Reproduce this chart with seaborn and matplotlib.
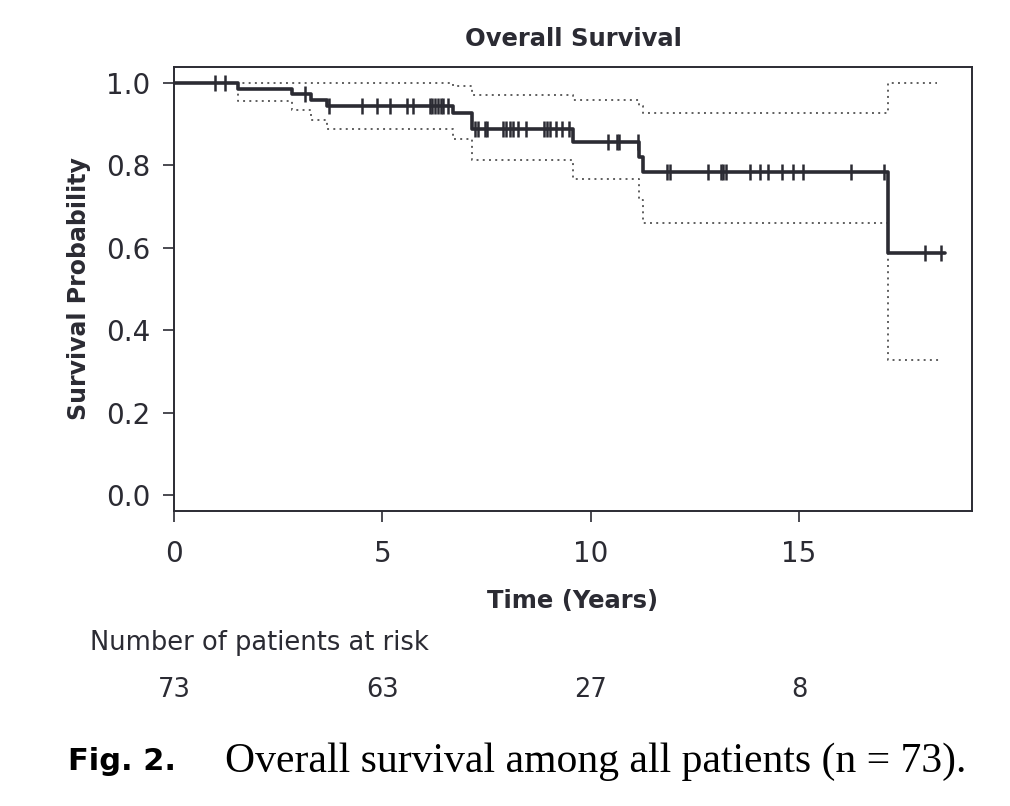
import numpy as np
import pandas as pd
import matplotlib
matplotlib.use('Agg')
import matplotlib.pyplot as plt
import seaborn as sns

# Kaplan-Meier estimate (step times, survival after each step)
km_time = [0, 1.54, 2.83, 3.29, 3.67, 6.70, 7.15, 9.58, 11.16, 11.26, 17.13, 18.50]
km_surv = [1.0, 0.986, 0.973, 0.958, 0.944, 0.927, 0.889, 0.858, 0.820, 0.784, 0.587, 0.587]

# 95% confidence band
ci_upper_time = [0, 6.70, 7.15, 9.58, 11.16, 11.26, 17.13, 18.30]
ci_upper = [1.0, 0.992, 0.972, 0.960, 0.944, 0.928, 1.0, 1.0]
ci_lower_time = [0, 1.54, 2.83, 3.29, 3.67, 6.70, 7.15, 9.58, 11.16, 11.26, 17.13, 18.38]
ci_lower = [1.0, 0.956, 0.934, 0.910, 0.889, 0.864, 0.814, 0.767, 0.716, 0.661, 0.328, 0.328]

# censored observations
censor_time = [0.98, 1.22, 3.14, 3.72, 4.50, 4.86, 5.18, 5.58, 5.74,
               6.14, 6.20, 6.26, 6.34, 6.41, 6.46, 6.58,
               7.22, 7.30, 7.46, 7.52, 7.90, 7.97, 8.06, 8.13, 8.26, 8.45,
               8.88, 8.94, 9.02, 9.17, 9.30, 9.49,
               10.42, 10.63, 10.69, 11.14,
               11.82, 11.90, 12.82, 13.13, 13.18, 13.25, 13.82, 14.06, 14.25,
               14.59, 14.86, 15.10, 16.25, 17.04, 18.02, 18.41]

# number at risk
risk_time = [0, 5, 10, 15]
risk_n = [73, 63, 27, 8]

x_ticks = [0, 5, 10, 15]
y_ticks = [0.0, 0.2, 0.4, 0.6, 0.8, 1.0]

sns.set_style('ticks')
plt.rcParams['font.family'] = ['DejaVu Sans']

dark = '#2b2b33'
band = '#5e5e5e'

fig = plt.figure(figsize=(10.1, 8.06), dpi=100)
ax = fig.add_axes([174 / 1010, 1 - 511 / 806, (972 - 174) / 1010, (511 - 67) / 806])

km = pd.DataFrame({'time': km_time, 'surv': km_surv})
up = pd.DataFrame({'time': ci_upper_time, 'surv': ci_upper})
lo = pd.DataFrame({'time': ci_lower_time, 'surv': ci_lower})

for d in (up, lo):
    sns.lineplot(data=d, x='time', y='surv', drawstyle='steps-post', estimator=None, sort=False,
                 color=band, linewidth=1.4, linestyle=(0, (1, 2.2)), ax=ax)
sns.lineplot(data=km, x='time', y='surv', drawstyle='steps-post', estimator=None, sort=False,
             color=dark, linewidth=2.6, ax=ax)

# survival level at each censor time
idx = np.searchsorted(km_time, censor_time, side='right') - 1
censor_surv = np.array(km_surv)[idx]
ax.plot(censor_time, censor_surv, linestyle='none', marker='|', markersize=12,
        markeredgewidth=1.8, color=dark)

ax.set_xlim(0, 19.15)
ax.set_ylim(-0.039, 1.039)
ax.set_xticks(x_ticks)
ax.set_yticks(y_ticks)
ax.set_yticklabels([f'{v:.1f}' for v in y_ticks])
ax.tick_params(axis='both', direction='out', length=8, width=1.2, color=dark,
               labelsize=20, labelcolor=dark)
ax.tick_params(axis='x', pad=13)
ax.tick_params(axis='y', pad=9)
for s in ax.spines.values():
    s.set_visible(True)
    s.set_color(dark)
    s.set_linewidth(1.4)

ax.set_title('Overall Survival', fontsize=17.5, fontweight='bold', color=dark, pad=15)
ax.set_xlabel('Time (Years)', fontsize=17.5, fontweight='bold', color=dark, labelpad=15)
ax.set_ylabel('Survival Probability', fontsize=17, fontweight='bold', color=dark, labelpad=11)

trans = ax.get_xaxis_transform()
ax.text(-2.02, -0.297, 'Number of patients at risk', transform=trans, fontsize=18.5,
        color=dark, ha='left', va='center')
for t, n in zip(risk_time, risk_n):
    ax.text(t, -0.403, str(n), transform=trans, fontsize=18.5, color=dark,
            ha='center', va='center')

fig.text(68 / 1010, 1 - 762 / 806, 'Fig. 2.', fontsize=22, fontweight='bold',
         color='black', ha='left', va='center')
fig.text(225 / 1010, 1 - 762 / 806, 'Overall survival among all patients (n = 73).',
         fontsize=30, family=['Liberation Serif', 'DejaVu Serif'], color='black',
         ha='left', va='center')

fig.savefig('out.png', dpi=100, facecolor='white')
